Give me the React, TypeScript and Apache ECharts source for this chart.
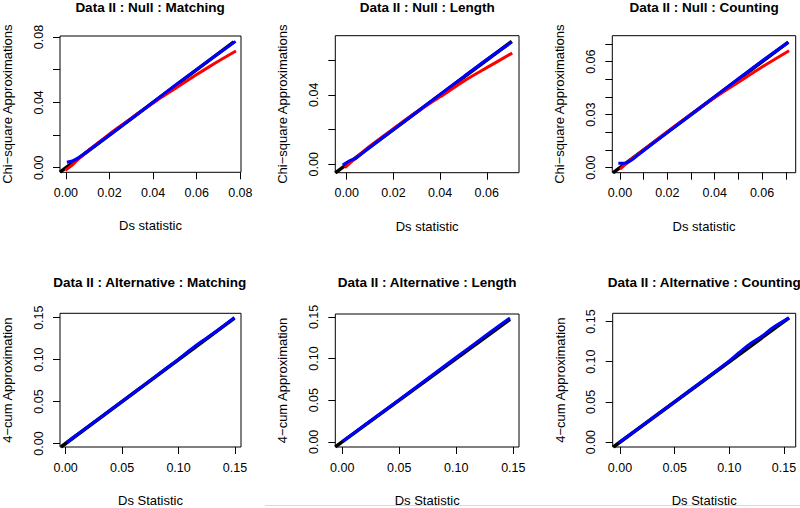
import React, { useEffect, useRef } from "react";
import * as echarts from "echarts";

// ---------- data ----------
const titles = [
  "Data II : Null : Matching",
  "Data II : Null : Length",
  "Data II : Null : Counting",
  "Data II : Alternative : Matching",
  "Data II : Alternative : Length",
  "Data II : Alternative : Counting",
];
const xNames = ["Ds statistic", "Ds statistic", "Ds statistic", "Ds Statistic", "Ds Statistic", "Ds Statistic"];
const yNames = [
  "Chi\u2212square Approximations",
  "Chi\u2212square Approximations",
  "Chi\u2212square Approximations",
  "4\u2212cum Approximation",
  "4\u2212cum Approximation",
  "4\u2212cum Approximation",
];

// axis ranges [min, max]
const xRanges = [
  [-0.0027, 0.0803],
  [-0.0049, 0.0738],
  [-0.00325, 0.0742],
  [-0.005, 0.1553],
  [-0.0061, 0.155],
  [-0.0067, 0.1607],
];
const yRanges = [
  [-0.0028, 0.0806],
  [-0.00485, 0.074],
  [-0.00285, 0.0747],
  [-0.0042, 0.1552],
  [-0.0062, 0.1535],
  [-0.0061, 0.1602],
];

// ticks and labelled ticks
const xTicks = [
  [0, 0.02, 0.04, 0.06, 0.08],
  [0, 0.02, 0.04, 0.06],
  [0, 0.01, 0.02, 0.03, 0.04, 0.05, 0.06, 0.07],
  [0, 0.05, 0.1, 0.15],
  [0, 0.05, 0.1, 0.15],
  [0, 0.05, 0.1, 0.15],
];
const xLabels = [
  [0, 0.02, 0.04, 0.06, 0.08],
  [0, 0.02, 0.04, 0.06],
  [0, 0.02, 0.04, 0.06],
  [0, 0.05, 0.1, 0.15],
  [0, 0.05, 0.1, 0.15],
  [0, 0.05, 0.1, 0.15],
];
const yTicks = [
  [0, 0.02, 0.04, 0.06, 0.08],
  [0, 0.02, 0.04, 0.06],
  [0, 0.01, 0.02, 0.03, 0.04, 0.05, 0.06, 0.07],
  [0, 0.05, 0.1, 0.15],
  [0, 0.05, 0.1, 0.15],
  [0, 0.05, 0.1, 0.15],
];
const yLabels = [
  [0, 0.04, 0.08],
  [0, 0.04],
  [0, 0.03, 0.06],
  [0, 0.05, 0.1, 0.15],
  [0, 0.05, 0.1, 0.15],
  [0, 0.05, 0.1, 0.15],
];

// series: black (Ds vs Ds), red, blue
const p1Black = [[-0.0027, -0.0027], [0.077, 0.077]];
const p1Red = [
  [-0.0003, -0.0015], [0.0023, 0.001], [0.0045, 0.0037], [0.008, 0.008], [0.012, 0.0124],
  [0.018, 0.0186], [0.024, 0.0246], [0.03, 0.0303], [0.036, 0.036], [0.042, 0.0415],
  [0.048, 0.0466], [0.054, 0.0518], [0.06, 0.057], [0.066, 0.062], [0.072, 0.0668], [0.078, 0.0714],
];
const p1Blue = [
  [0.00045, 0.0033], [0.003, 0.0041], [0.0053, 0.0057], [0.0076, 0.0078], [0.012, 0.0121],
  [0.02, 0.02], [0.03, 0.03], [0.04, 0.0401], [0.05, 0.0503], [0.06, 0.0602], [0.07, 0.0699], [0.0778, 0.0773],
];

const p2Black = [[-0.0049, -0.0049], [0.0707, 0.0707]];
const p2Red = [
  [-0.0008, -0.002], [0.003, 0.0025], [0.01, 0.0105], [0.02, 0.0205], [0.03, 0.0302],
  [0.04, 0.0388], [0.05, 0.0477], [0.06, 0.0556], [0.0709, 0.064],
];
const p2Blue = [
  [-0.0017, -0.0004], [0.0014, 0.0021], [0.004, 0.0035], [0.007, 0.0068], [0.015, 0.015],
  [0.03, 0.0301], [0.04, 0.0402], [0.05, 0.0503], [0.06, 0.0603], [0.0707, 0.0703],
];

const p3Black = [[-0.003, -0.003], [0.0711, 0.0711]];
const p3Red = [
  [0.0, -0.0009], [0.004, 0.0038], [0.01, 0.0102], [0.02, 0.0204], [0.03, 0.0303],
  [0.04, 0.0397], [0.05, 0.0484], [0.06, 0.057], [0.0714, 0.0662],
];
const p3Blue = [
  [-0.0007, 0.0025], [0.0021, 0.0025], [0.0049, 0.0043], [0.008, 0.0076], [0.02, 0.02],
  [0.04, 0.0402], [0.05, 0.0503], [0.06, 0.0604], [0.0711, 0.071],
];

const p4Black = [[-0.0042, -0.0042], [0.1495, 0.1495]];
const p4Blue = [
  [0.0009, 0.0012], [0.01, 0.0105], [0.03, 0.0302], [0.05, 0.0502], [0.07, 0.0702], [0.09, 0.0905],
  [0.1, 0.1005], [0.11, 0.1112], [0.12, 0.1212], [0.13, 0.1305], [0.14, 0.1405], [0.1495, 0.1502],
];

const p5Black = [[-0.0061, -0.0061], [0.1471, 0.1471]];
const p5Blue = [
  [0.0005, 0.0008], [0.02, 0.0205], [0.05, 0.0505], [0.08, 0.0812], [0.1, 0.1015],
  [0.12, 0.1218], [0.14, 0.1418], [0.1471, 0.1488],
];

const p6Black = [[-0.0061, -0.0061], [0.1546, 0.1546]];
const p6Blue = [
  [-0.0012, -0.0008], [0.02, 0.0202], [0.05, 0.0502], [0.08, 0.0805], [0.1, 0.101], [0.11, 0.1125],
  [0.12, 0.1232], [0.13, 0.132], [0.14, 0.1425], [0.1546, 0.1545],
];

const blackSeries = [p1Black, p2Black, p3Black, p4Black, p5Black, p6Black];
const redSeries = [p1Red, p2Red, p3Red, null, null, null];
const blueSeries = [p1Blue, p2Blue, p3Blue, p4Blue, p5Blue, p6Blue];

// ---------- layout ----------
const boxes = [
  { left: 59, top: 36, width: 182, height: 136.3 },
  { left: 335.3, top: 35.7, width: 183.7, height: 137 },
  { left: 612.3, top: 35.7, width: 183.4, height: 137 },
  { left: 58.3, top: 313.3, width: 182.7, height: 136 },
  { left: 335.3, top: 314, width: 183.7, height: 136 },
  { left: 612.7, top: 313.3, width: 183, height: 136.4 },
];
const titleY = [7, 7, 7, 282.5, 282.5, 282.5];

const FONT = "'Liberation Sans', Arial, Helvetica, sans-serif";

export default function App() {
  const ref = useRef<HTMLDivElement>(null);
  useEffect(() => {
    if (!ref.current) return;
    const chart = echarts.init(ref.current, null, { renderer: "svg" });
    const grid: any[] = [];
    const xAxis: any[] = [];
    const yAxis: any[] = [];
    const series: any[] = [];
    const graphic: any[] = [];
    for (let i = 0; i < 6; i++) {
      const b = boxes[i];
      grid.push({
        left: b.left, top: b.top, width: b.width, height: b.height,
        show: true, borderColor: "#000", borderWidth: 1, backgroundColor: "transparent",
      });
      xAxis.push({
        type: "value", gridIndex: i, min: xRanges[i][0], max: xRanges[i][1], position: "bottom",
        name: xNames[i], nameLocation: "middle", nameGap: 47,
        nameTextStyle: { fontSize: 13, color: "#000", fontFamily: FONT },
        axisLine: { show: false, onZero: false },
        axisTick: { show: true, length: 7, lineStyle: { color: "#000", width: 1 }, customValues: xTicks[i] },
        axisLabel: {
          customValues: xLabels[i], formatter: (v: number) => v.toFixed(2),
          margin: 14, fontSize: 12.5, color: "#000", fontFamily: FONT, hideOverlap: false,
        },
        splitLine: { show: false },
      });
      yAxis.push({
        type: "value", gridIndex: i, min: yRanges[i][0], max: yRanges[i][1], position: "left",
        name: yNames[i], nameLocation: "middle", nameGap: 46,
        nameTextStyle: { fontSize: 13, color: "#000", fontFamily: FONT },
        axisLine: { show: false, onZero: false },
        axisTick: { show: true, length: 7, lineStyle: { color: "#000", width: 1 }, customValues: yTicks[i] },
        axisLabel: {
          customValues: yLabels[i], formatter: (v: number) => v.toFixed(2), rotate: 90,
          margin: 15, fontSize: 12.5, color: "#000", fontFamily: FONT, hideOverlap: false,
        },
        splitLine: { show: false },
      });
      series.push({
        type: "line", xAxisIndex: i, yAxisIndex: i, data: blackSeries[i], symbol: "none",
        lineStyle: { color: "#000", width: 3.5 }, silent: true,
      });
      if (redSeries[i]) {
        series.push({
          type: "line", xAxisIndex: i, yAxisIndex: i, data: redSeries[i], symbol: "none",
          smooth: 0.3, lineStyle: { color: "#ff0000", width: 3 }, silent: true,
        });
      }
      series.push({
        type: "line", xAxisIndex: i, yAxisIndex: i, data: blueSeries[i], symbol: "none",
        smooth: 0.3, lineStyle: { color: "#0000ff", width: 3 }, silent: true,
      });
      graphic.push({
        type: "text", x: b.left + b.width / 2, y: titleY[i],
        style: {
          text: titles[i], fontSize: 13.5, fontWeight: "bold", fontFamily: FONT, fill: "#000",
          align: "center", verticalAlign: "middle",
        },
      });
    }
    graphic.push({
      type: "line", shape: { x1: 265, y1: 505.5, x2: 800, y2: 505.5 },
      style: { stroke: "#d9d9d9", lineWidth: 1 },
    });
    chart.setOption({
      animation: false,
      backgroundColor: "#fff",
      grid, xAxis, yAxis, series, graphic,
    });
    return () => chart.dispose();
  }, []);
  return (
    <div
      ref={ref}
      style={{ position: "fixed", left: 0, top: 0, width: 800, height: 508 }}
    />
  );
}
